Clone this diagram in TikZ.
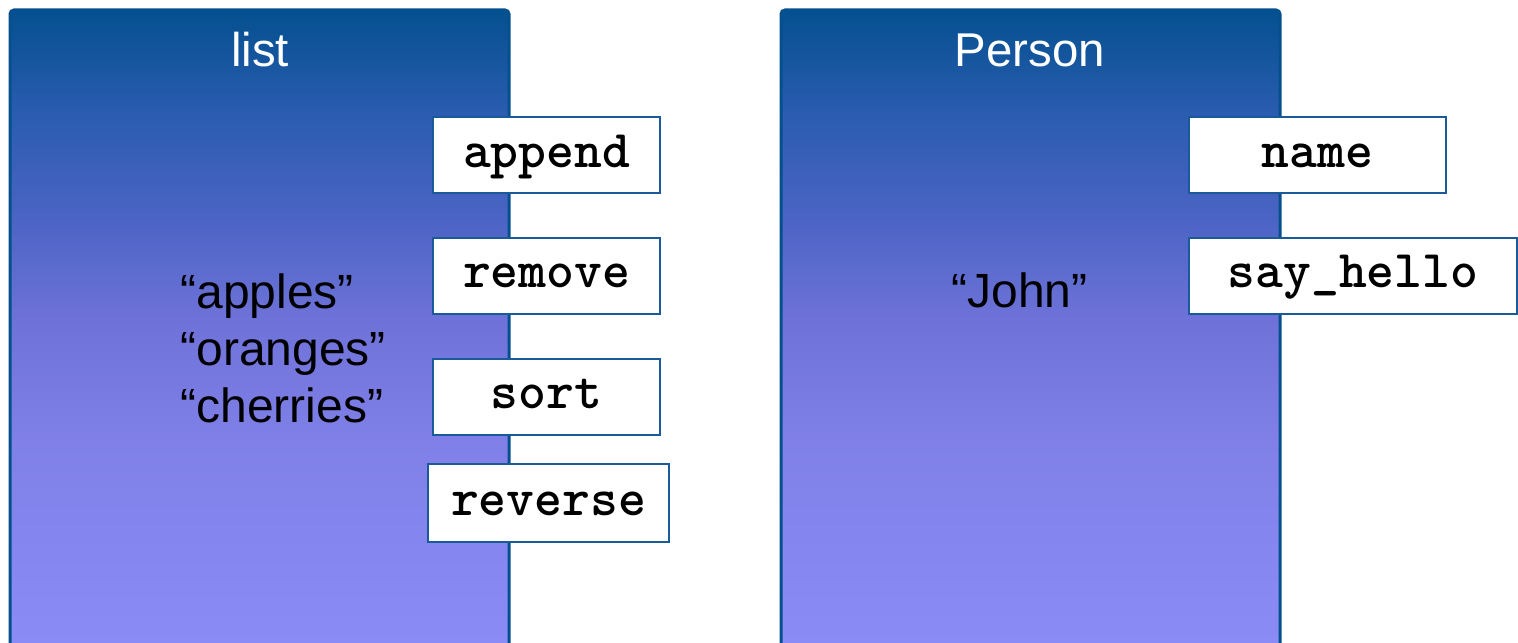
\documentclass[tikz,border=0pt]{standalone}
\usepackage{fontspec}
\setmainfont{Liberation Sans}
\definecolor{ptop}{HTML}{04508F}
\definecolor{pa}{HTML}{2A5CB0}
\definecolor{pb}{HTML}{4A64C4}
\definecolor{pc}{HTML}{6E72D8}
\definecolor{pd}{HTML}{8080E8}
\definecolor{pbot}{HTML}{8C8CF8}
\definecolor{border}{HTML}{04508F}
\definecolor{boxblue}{HTML}{1A5A98}
\pgfdeclareverticalshading{panelgrad}{100bp}{color(0bp)=(pbot); color(26.4bp)=(pbot); color(42.7bp)=(pd); color(51.9bp)=(pc); color(59.6bp)=(pb); color(67.3bp)=(pa); color(75bp)=(ptop); color(100bp)=(ptop)}
\tikzset{
  panel/.style={shading=panelgrad, draw=border, line width=1.5pt, rounded corners=2pt},
  method/.style={draw=boxblue, line width=1pt, fill=white, inner sep=0pt, minimum height=38pt,
    text height=12pt, text depth=0pt, font=\ttfamily\bfseries\fontsize{26.5}{30}\selectfont},
  title/.style={anchor=base, text=white, inner sep=0pt, font=\fontsize{23.7}{28}\selectfont},
  item/.style={anchor=base west, text=black, inner sep=0pt, font=\fontsize{24}{28}\selectfont}
}
\begin{document}
\begin{tikzpicture}[x=0.5pt, y=-0.5pt]
\useasboundingbox (0,0) rectangle (1518,642);
\clip (0,0) rectangle (1518,642);
% left panel
\draw[panel] (10,680) -- (10,10) -- (509,10) -- (509,680) -- cycle;
\node[title] (listt) at (260,67) {list};
\node[item] (apples) at (180,308) {“apples”};
\node[item] (oranges) at (180,365) {“oranges”};
\node[item] (cherries) at (180,422) {“cherries”};
\node[method, minimum width=113.5pt] (append) at (546.5,155) {append};
\node[method, minimum width=113.5pt] (remove) at (546.5,275.5) {remove};
\node[method, minimum width=113.5pt] (sort) at (546.5,396.5) {sort};
\node[method, minimum width=120.5pt, minimum height=39pt] (reverse) at (548.5,503) {reverse};
% right panel
\draw[panel] (781,680) -- (781,10) -- (1280,10) -- (1280,680) -- cycle;
\node[title] (persont) at (1030,67) {Person};
\node[item] (john) at (951,307) {“John”};
\node[method, minimum width=128.5pt] (name) at (1317.5,155) {name};
\node[method, minimum width=164pt] (sayhello) at (1353,275.5) {say\_hello};
\end{tikzpicture}
\end{document}
